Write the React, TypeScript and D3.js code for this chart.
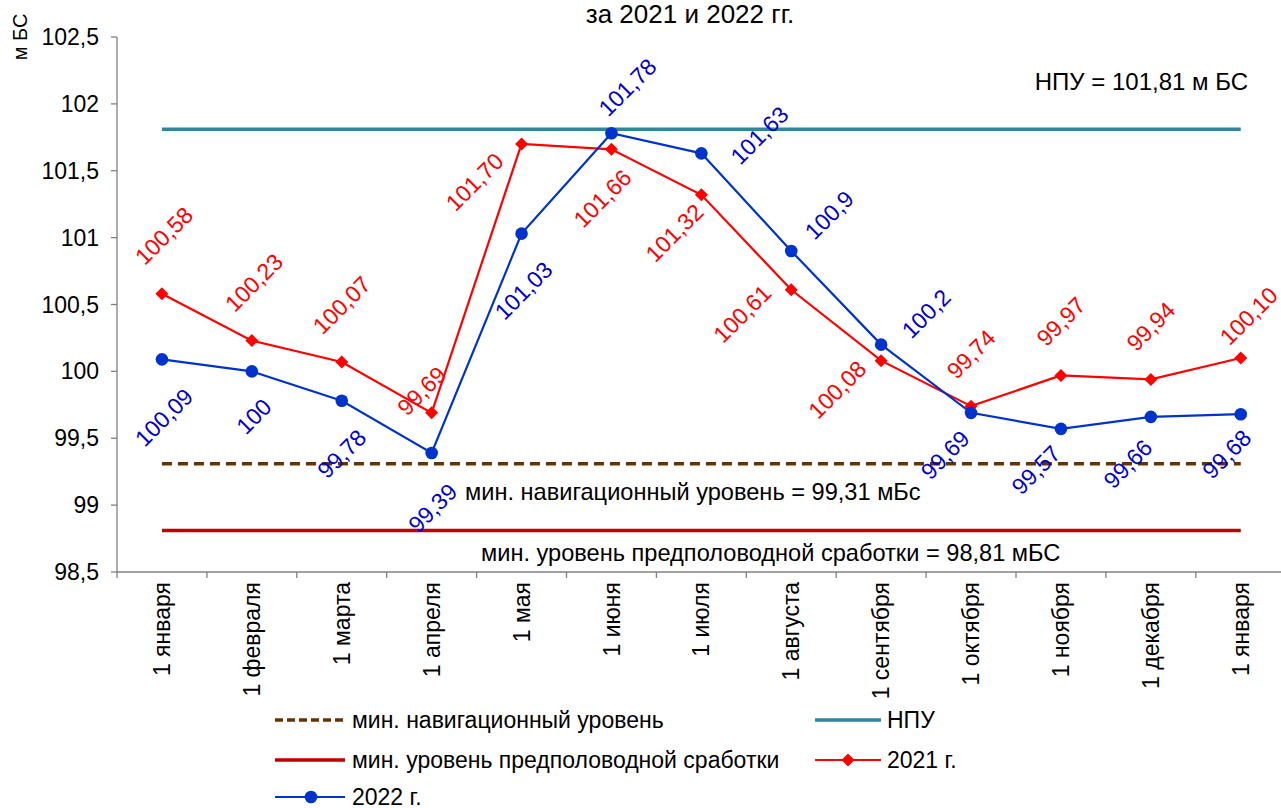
import React from "react";
import * as d3 from "d3";

// Month labels along the x axis (1st of each month, Jan through next Jan)
const months = [
  "1 января", "1 февраля", "1 марта", "1 апреля", "1 мая", "1 июня", "1 июля",
  "1 августа", "1 сентября", "1 октября", "1 ноября", "1 декабря", "1 января",
];

// Water level, m BS
const level2021 = [100.58, 100.23, 100.07, 99.69, 101.7, 101.66, 101.32, 100.61, 100.08, 99.74, 99.97, 99.94, 100.1];
const level2022 = [100.09, 100.0, 99.78, 99.39, 101.03, 101.78, 101.63, 100.9, 100.2, 99.69, 99.57, 99.66, 99.68];
const labels2021 = ["100,58", "100,23", "100,07", "99,69", "101,70", "101,66", "101,32", "100,61", "100,08", "99,74", "99,97", "99,94", "100,10"];
const labels2022 = ["100,09", "100", "99,78", "99,39", "101,03", "101,78", "101,63", "100,9", "100,2", "99,69", "99,57", "99,66", "99,68"];

// Reference levels
const npu = 101.81;
const minNav = 99.31;
const minDrawdown = 98.81;

const yTicks = [98.5, 99, 99.5, 100, 100.5, 101, 101.5, 102, 102.5];
const yTickLabels = ["98,5", "99", "99,5", "100", "100,5", "101", "101,5", "102", "102,5"];

// Data-label placement relative to each point (pixels)
const offsets2021: [number, number][] = [
  [2, -58], [2, -58], [0, -57], [-10, -22], [-47, 38], [-9, 49], [-27, 38],
  [-49, 24], [-44, 29], [0, -52], [0, -54], [0, -53], [8, -42],
];
const offsets2022: [number, number][] = [
  [2, 58], [2, 45], [0, 53], [1, 55], [2, 57], [16, -46], [58, -18],
  [38, -36], [45, -31], [-26, 42], [-25, 41], [-23, 47], [-14, 40],
];

const FONT = "'Liberation Sans', Arial, sans-serif";
const RED = "#FF0000";
const BLUE = "#0033CC";
const BLUE_TEXT = "#0000CC";
const TEAL = "#31859C";
const BROWN = "#663300";
const DARK_RED = "#C00000";
const AXIS = "#808080";

// Square diamond marker
const diamondPath = (s: number) => `M0,${-s}L${s},0L0,${s}L${-s},0Z`;

export default function App() {
  const W = 1281;
  const H = 808;
  const left = 117;
  const step = 89.9;
  const x = d3
    .scaleBand<number>()
    .domain(months.map((_, i) => i))
    .range([left, left + step * months.length])
    .padding(0);
  const cx = (i: number) => (x(i) as number) + x.bandwidth() / 2;
  const y = d3.scaleLinear().domain([98.5, 102.5]).range([572, 37]);

  const line = d3
    .line<number>()
    .x((_, i) => cx(i))
    .y((d) => y(d));

  const x0 = cx(0);
  const x1 = cx(months.length - 1);
  const diamond = diamondPath(6.5);

  return (
    <svg
      width={W}
      height={H}
      style={{ position: "absolute", left: 0, top: 0, background: "#fff" }}
      fontFamily={FONT}
    >
      <text x={690} y={23} textAnchor="middle" fontSize={26} fill="#000">
        за 2021 и 2022 гг.
      </text>

      {/* y axis */}
      <text
        transform={`translate(27,37) rotate(-90)`}
        textAnchor="middle"
        fontSize={20}
        fill="#000"
      >
        м БС
      </text>
      <line x1={left} x2={left} y1={y(102.5)} y2={y(98.5)} stroke={AXIS} strokeWidth={1.3} />
      {yTicks.map((t, i) => (
        <g key={t}>
          <line x1={left - 6} x2={left} y1={y(t)} y2={y(t)} stroke={AXIS} strokeWidth={1.3} />
          <text x={99} y={y(t)} dy="0.35em" textAnchor="end" fontSize={23} fill="#000">
            {yTickLabels[i]}
          </text>
        </g>
      ))}

      {/* x axis */}
      <line x1={left} x2={W} y1={y(98.5)} y2={y(98.5)} stroke={AXIS} strokeWidth={1.3} />
      {months.map((_, i) => (
        <line
          key={"t" + i}
          x1={x(i) as number}
          x2={x(i) as number}
          y1={y(98.5)}
          y2={y(98.5) + 6}
          stroke={AXIS}
          strokeWidth={1.3}
        />
      ))}
      {months.map((m, i) => (
        <text
          key={"m" + i}
          transform={`translate(${cx(i)},${y(98.5) + 10}) rotate(-90)`}
          textAnchor="end"
          dy="0.35em"
          fontSize={23}
          fill="#000"
        >
          {m}
        </text>
      ))}

      {/* reference levels */}
      <line x1={x0} x2={x1} y1={y(npu)} y2={y(npu)} stroke={TEAL} strokeWidth={3.5} />
      <line
        x1={x0}
        x2={x1}
        y1={y(minNav)}
        y2={y(minNav)}
        stroke={BROWN}
        strokeWidth={3.5}
        strokeDasharray="10 6"
      />
      <line x1={x0} x2={x1} y1={y(minDrawdown)} y2={y(minDrawdown)} stroke={DARK_RED} strokeWidth={3.5} />
      <text x={1248} y={90} textAnchor="end" fontSize={24} fill="#000">
        НПУ = 101,81 м БС
      </text>
      <text x={465} y={500} fontSize={23.6} fill="#000">
        мин. навигационный уровень = 99,31 мБс
      </text>
      <text x={481} y={561} fontSize={23.6} fill="#000">
        мин. уровень предполоводной сработки = 98,81 мБС
      </text>

      {/* 2021 */}
      <path d={line(level2021) as string} fill="none" stroke={RED} strokeWidth={2.2} />
      {level2021.map((v, i) => (
        <path key={"d" + i} d={diamond} transform={`translate(${cx(i)},${y(v)})`} fill={RED} />
      ))}

      {/* 2022 */}
      <path d={line(level2022) as string} fill="none" stroke={BLUE} strokeWidth={2.2} />
      {level2022.map((v, i) => (
        <circle key={"c" + i} cx={cx(i)} cy={y(v)} r={6.3} fill={BLUE} />
      ))}

      {/* data labels */}
      {level2021.map((v, i) => (
        <text
          key={"l21" + i}
          transform={`translate(${cx(i) + offsets2021[i][0]},${y(v) + offsets2021[i][1]}) rotate(-45)`}
          textAnchor="middle"
          dy="0.35em"
          fontSize={23}
          fill={RED}
        >
          {labels2021[i]}
        </text>
      ))}
      {level2022.map((v, i) => (
        <text
          key={"l22" + i}
          transform={`translate(${cx(i) + offsets2022[i][0]},${y(v) + offsets2022[i][1]}) rotate(-45)`}
          textAnchor="middle"
          dy="0.35em"
          fontSize={23}
          fill={BLUE_TEXT}
        >
          {labels2022[i]}
        </text>
      ))}

      {/* legend */}
      <g fontSize={23} fill="#000">
        <line x1={275} x2={345} y1={720} y2={720} stroke={BROWN} strokeWidth={3.5} strokeDasharray="8 4" />
        <text x={352} y={720} dy="0.35em">мин. навигационный уровень</text>

        <line x1={815} x2={881} y1={720} y2={720} stroke={TEAL} strokeWidth={3.5} />
        <text x={887} y={720} dy="0.35em">НПУ</text>

        <line x1={275} x2={345} y1={760} y2={760} stroke={DARK_RED} strokeWidth={3.5} />
        <text x={352} y={760} dy="0.35em">мин. уровень предполоводной сработки</text>

        <line x1={815} x2={881} y1={760} y2={760} stroke={RED} strokeWidth={2.2} />
        <path d={diamond} transform="translate(848,760)" fill={RED} />
        <text x={887} y={760} dy="0.35em">2021 г.</text>

        <line x1={275} x2={345} y1={797} y2={797} stroke={BLUE} strokeWidth={2.2} />
        <circle cx={311} cy={797} r={6.3} fill={BLUE} />
        <text x={352} y={797} dy="0.33em">2022 г.</text>
      </g>
    </svg>
  );
}
